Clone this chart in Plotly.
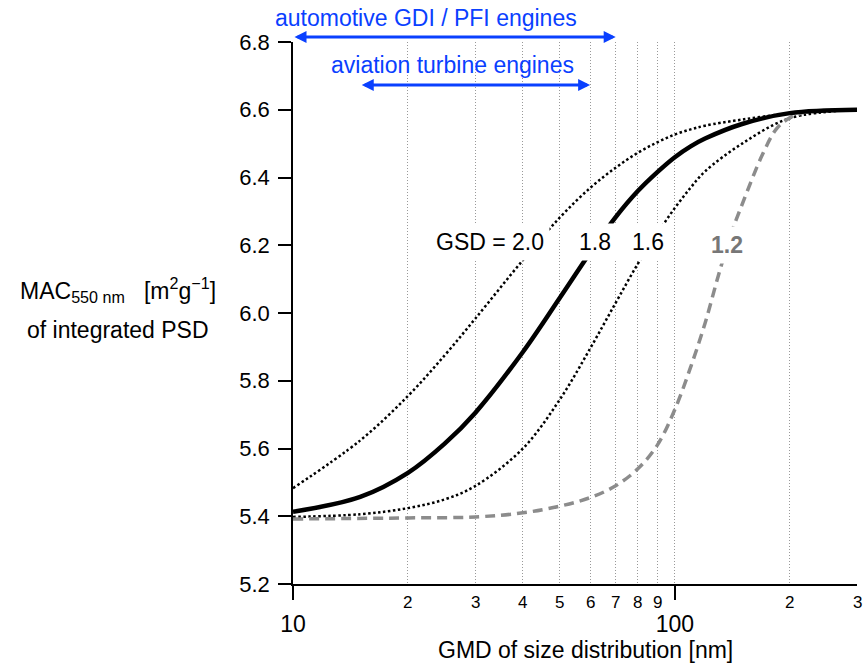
import numpy as np
import plotly.graph_objects as go

# GMD of the size distribution [nm]
gmd = [10, 15, 20, 25, 30, 40, 50, 60, 70, 80, 90, 100, 110, 120, 150, 200, 300]

# MAC at 550 nm of the integrated PSD [m2/g] for each geometric standard deviation
mac_gsd20 = [5.483, 5.624, 5.755, 5.876, 5.983, 6.156, 6.282, 6.369, 6.429, 6.473, 6.504, 6.527, 6.542, 6.553, 6.571, 6.589, 6.60]
mac_gsd18 = [5.413, 5.457, 5.528, 5.615, 5.705, 5.885, 6.045, 6.178, 6.283, 6.36, 6.416, 6.46, 6.492, 6.515, 6.558, 6.59, 6.60]
mac_gsd16 = [5.398, 5.406, 5.424, 5.45, 5.489, 5.60, 5.745, 5.895, 6.03, 6.145, 6.235, 6.31, 6.37, 6.418, 6.50, 6.575, 6.60]

gmd_12 = [10, 20, 30, 40, 50, 60, 70, 80, 90, 100, 110, 120, 130, 140, 150, 170, 185, 200, 220, 250, 300]
mac_gsd12 = [5.392, 5.395, 5.398, 5.41, 5.43, 5.455, 5.49, 5.54, 5.61, 5.715, 5.84, 5.97, 6.11, 6.23, 6.32, 6.47, 6.545, 6.576, 6.593, 6.598, 6.60]

# curve labels and their positions (GMD, MAC)
curve_labels = ["GSD = 2.0", "1.8", "1.6", "1.2"]
curve_label_x = [32.8, 61.8, 85.1, 137]
curve_label_y = [6.21, 6.21, 6.21, 6.20]

# axis ticks
y_ticks = [5.2, 5.4, 5.6, 5.8, 6.0, 6.2, 6.4, 6.6, 6.8]
x_major = [10, 100]
x_major_text = ["10", "100"]
x_minor = [20, 30, 40, 50, 60, 70, 80, 90, 200, 300]
x_minor_text = ["2", "3", "4", "5", "6", "7", "8", "9", "2", "3"]

# typical size ranges of engine emissions [nm]
automotive_range = [10, 70]
aviation_range = [15, 60]

FONT = "Liberation Sans, Arial, sans-serif"
BLUE = "#0a40ff"
BIG = 23

fig = go.Figure()

dot = "2.5px,2.5px"
fig.add_trace(go.Scatter(x=gmd, y=mac_gsd20, mode="lines", line=dict(color="black", width=2.5, dash=dot, shape="spline", smoothing=1.0), hoverinfo="skip"))
fig.add_trace(go.Scatter(x=gmd, y=mac_gsd16, mode="lines", line=dict(color="black", width=2.5, dash=dot, shape="spline", smoothing=1.0), hoverinfo="skip"))
fig.add_trace(go.Scatter(x=gmd_12, y=mac_gsd12, mode="lines", line=dict(color="#8c8c8c", width=3.5, dash="10px,6px", shape="spline", smoothing=1.0), hoverinfo="skip"))
fig.add_trace(go.Scatter(x=gmd, y=mac_gsd18, mode="lines", line=dict(color="black", width=4.5, shape="spline", smoothing=1.0), hoverinfo="skip"))

# white bands that interrupt the grid behind the labels
fig.add_shape(type="rect", layer="between", xref="x", yref="y",
              x0=np.log10(12), x1=np.log10(66), y0=6.652, y1=6.8,
              fillcolor="white", line=dict(width=0))
fig.add_shape(type="rect", layer="between", xref="x", yref="y",
              x0=np.log10(19), x1=np.log10(110), y0=6.139, y1=6.298,
              fillcolor="white", line=dict(width=0))

# curve labels
for t, lx, ly in zip(curve_labels, curve_label_x, curve_label_y):
    is_12 = t == "1.2"
    fig.add_annotation(
        x=np.log10(lx), y=ly, xref="x", yref="y", xanchor="center", yanchor="middle",
        text=f"<b>{t}</b>" if is_12 else t,
        showarrow=False, bgcolor="white", borderpad=5,
        font=dict(family=FONT, size=BIG, color="#777777" if is_12 else "black"),
    )

# range arrows
fig.add_annotation(
    x=np.log10(automotive_range[1]), y=1.0092, xref="x", yref="paper",
    ax=np.log10(automotive_range[0]), ay=0, axref="x", ayref="pixel",
    showarrow=True, arrowside="end+start", arrowhead=2, startarrowhead=2,
    arrowsize=0.8, startarrowsize=0.8, arrowwidth=3, arrowcolor=BLUE, text="",
)
fig.add_annotation(
    x=np.log10(aviation_range[1]), y=6.673, xref="x", yref="y",
    ax=np.log10(aviation_range[0]), ay=6.673, axref="x", ayref="y",
    showarrow=True, arrowside="end+start", arrowhead=2, startarrowhead=2,
    arrowsize=0.8, startarrowsize=0.8, arrowwidth=3, arrowcolor=BLUE, text="",
)
fig.add_annotation(x=0.236, y=1.044, xref="paper", yref="paper", xanchor="center", yanchor="middle",
                   showarrow=False, text="automotive GDI / PFI engines",
                   font=dict(family=FONT, size=BIG, color=BLUE))
fig.add_annotation(x=0.282, y=0.9576, xref="paper", yref="paper", xanchor="center", yanchor="middle",
                   showarrow=False, text="aviation turbine engines",
                   font=dict(family=FONT, size=BIG, color=BLUE))

# minor x tick labels
for v, t in zip(x_minor, x_minor_text):
    fig.add_annotation(x=np.log10(v), y=0, xref="x", yref="paper", xanchor="center", yanchor="top", yshift=-7,
                       showarrow=False, text=t, font=dict(family=FONT, size=17, color="black"))

# axis titles
fig.add_annotation(x=-0.31, y=0.5425, xref="paper", yref="paper", xanchor="center", yanchor="middle",
                   showarrow=False,
                   text="MAC<sub>550 nm</sub>\u00a0\u00a0 [m<sup>2</sup>g<sup>\u22121</sup>]",
                   font=dict(family=FONT, size=BIG, color="black"))
fig.add_annotation(x=-0.31, y=0.4686, xref="paper", yref="paper", xanchor="center", yanchor="middle",
                   showarrow=False, text="of integrated PSD",
                   font=dict(family=FONT, size=BIG, color="black"))
fig.add_annotation(x=0.518, y=-0.122, xref="paper", yref="paper", xanchor="center", yanchor="middle",
                   showarrow=False, text="GMD of size distribution [nm]",
                   font=dict(family=FONT, size=BIG, color="black"))

fig.update_xaxes(
    type="log", range=[np.log10(10), np.log10(300)],
    tickvals=x_major, ticktext=x_major_text, ticks="outside", ticklen=14, tickwidth=1.5,
    tickcolor="black", tickfont=dict(family=FONT, size=BIG, color="black"), ticklabelstandoff=5,
    showline=True, linecolor="black", linewidth=1.5, zeroline=False,
    showgrid=True, gridcolor="#999999", gridwidth=1, griddash="1px,2px",
    minor=dict(tickvals=x_minor, showgrid=True, gridcolor="#999999", gridwidth=1, griddash="1px,2px", ticks=""),
)
fig.update_yaxes(
    range=[5.2, 6.8], tickvals=y_ticks, tickformat=".1f", ticks="outside", ticklen=13, tickwidth=1.5,
    tickcolor="black", tickfont=dict(family=FONT, size=22, color="black"), ticklabelstandoff=4,
    showline=True, linecolor="black", linewidth=1.5, showgrid=False, zeroline=False,
)

fig.update_layout(
    width=867, height=667, showlegend=False,
    margin=dict(l=293, r=10, t=42, b=83),
    plot_bgcolor="white", paper_bgcolor="white",
)

fig.write_html("out.html")
